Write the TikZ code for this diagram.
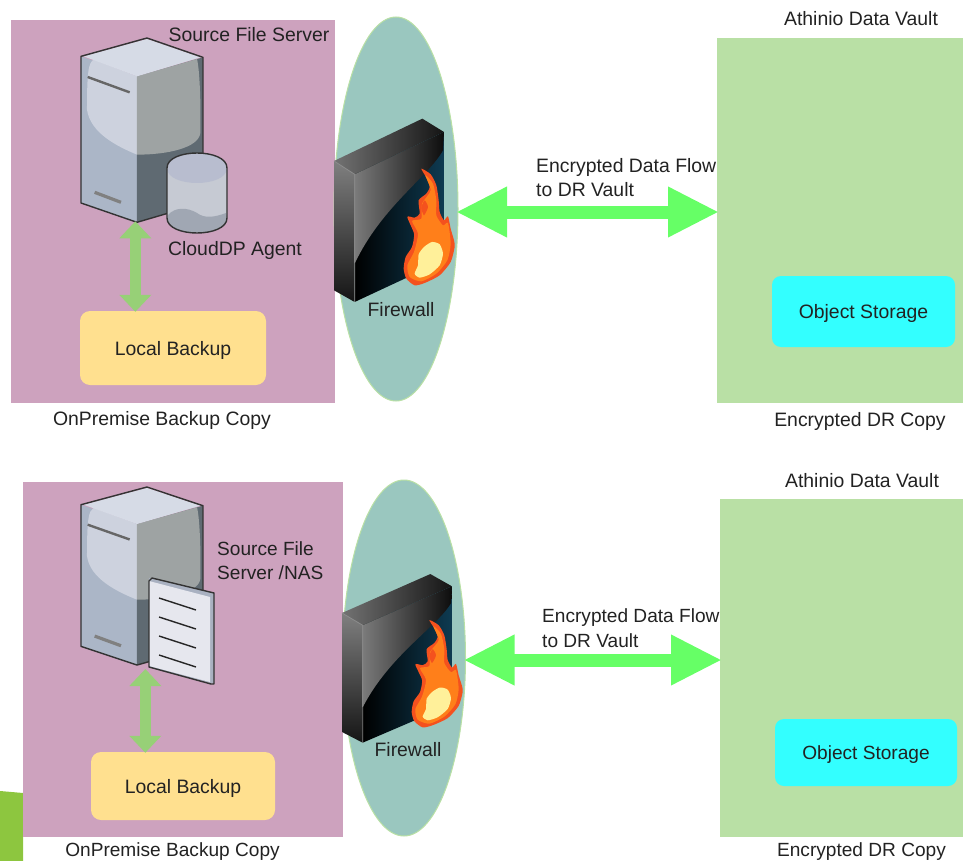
\documentclass[tikz,border=0pt]{standalone}
\usepackage{fontspec}
\setmainfont{Liberation Sans}
\usetikzlibrary{positioning,calc,arrows.meta,shapes.geometric}

\definecolor{pinkzone}{HTML}{CDA2BE}
\definecolor{wallteal}{HTML}{9AC7BF}
\definecolor{vaultgreen}{HTML}{B9E0A5}
\definecolor{storecyan}{HTML}{33FFFF}
\definecolor{backupyellow}{HTML}{FFE08F}
\definecolor{flowgreen}{HTML}{66FF66}
\definecolor{linkgreen}{HTML}{97D077}
\definecolor{cornergreen}{HTML}{8DC63F}
\definecolor{inktext}{HTML}{222222}
\definecolor{casefront}{HTML}{ABB6C7}
\definecolor{caseside}{HTML}{5F6A72}
\definecolor{casetop}{HTML}{D6DBE6}
\definecolor{caseglow}{HTML}{CDD2DE}
\definecolor{casesheen}{HTML}{9EA3A3}
\definecolor{drumbody}{HTML}{C6CAD3}
\definecolor{drumlid}{HTML}{B8BDCF}
\definecolor{drumbase}{HTML}{A0A7B3}
\definecolor{sheetface}{HTML}{E6E7EE}
\definecolor{sheetedge}{HTML}{A9B1C1}
\definecolor{wallblue}{HTML}{0E3B52}
\definecolor{flameout}{HTML}{F4511E}
\definecolor{flamein}{HTML}{FF7F1A}
\definecolor{flamecore}{HTML}{FFF09A}

\tikzset{
    tagtext/.style={font=\fontsize{19.4}{24.5}\selectfont, text=inktext, inner sep=0pt, align=left},
    narrowtext/.style={font=\fontsize{19.1}{24.5}\selectfont},
    onpremzone/.style={rectangle, fill=pinkzone, inner sep=0pt, outer sep=0pt, anchor=north west},
    vaultzone/.style={rectangle, fill=vaultgreen, inner sep=0pt, outer sep=0pt, anchor=north west},
    wallzone/.style={ellipse, fill=wallteal, draw=vaultgreen, line width=1pt, inner sep=0pt, outer sep=0pt},
    storebox/.style={tagtext, rectangle, rounded corners=9pt, fill=storecyan, align=center, text depth=0pt},
    backupbox/.style={tagtext, rectangle, rounded corners=10pt, fill=backupyellow, align=center, text depth=0pt},
    flowarrow/.style={draw=flowgreen, line width=13pt, shorten <=-2pt, shorten >=-2pt, {Triangle[length=51pt,width=47pt]}-{Triangle[length=51pt,width=47pt]}},
    linkarrow/.style={draw=linkgreen, line width=10.5pt, shorten <=-1pt, shorten >=-1pt, {Triangle[length=17pt,width=31pt]}-{Triangle[length=17pt,width=31pt]}},
    fileserver/.pic={
        \begin{scope}[shift={(-86.67,-18.33)},x=.3333pt,y=-.3333pt]
            \fill[casefront] (62,110) -- (230,170) -- (230,608) -- (62,550) -- cycle;
            \fill[caseside] (230,170) -- (428,113) -- (428,550) -- (230,608) -- cycle;
            \fill[caseglow] (230,170) -- (100,120) .. controls (85,130) and (80,150) .. (80,270) .. controls (90,340) and (170,380) .. (230,405) -- cycle;
            \fill[casesheen] (230,170) -- (410,118) .. controls (418,150) and (422,250) .. (420,340) .. controls (415,385) and (320,405) .. (230,405) -- cycle;
            \fill[casetop] (70,110) -- (260,58) -- (420,113) -- (230,170) -- cycle;
            \draw[line width=1.4pt, draw=black!80, line join=round] (62,110) -- (260,55) -- (428,113) -- (428,550) -- (230,608) -- (62,550) -- cycle;
            \draw[line width=2.4pt, draw=black!60] (82,172) -- (208,218);
            \draw[line width=3.2pt, draw=black!50] (103,518) -- (182,548);
            \coordinate (-foot) at (225,608);
        \end{scope}
    },
    dbdrum/.pic={
        \fill[drumbody] (-30,15) .. controls (-30,-5) and (30,-5) .. (30,15) -- (30,65) .. controls (30,85) and (-30,85) .. (-30,65) -- cycle;
        \fill[drumlid] (-30,15) .. controls (-30,-5) and (30,-5) .. (30,15) .. controls (30,35) and (-30,35) .. (-30,15) -- cycle;
        \fill[drumbase] (-29,62) .. controls (-22,54) and (-10,54) .. (0,60) .. controls (8,66) and (18,64) .. (29,60) -- (30,65) .. controls (30,85) and (-30,85) .. (-30,65) -- cycle;
        \draw[line width=1.4pt, draw=black!80] (-30,15) .. controls (-30,-5) and (30,-5) .. (30,15) -- (30,65) .. controls (30,85) and (-30,85) .. (-30,65) -- cycle;
    },
    filesheet/.pic={
        \fill[sheetedge] (0,0) -- (65,15) -- (65,106) -- (0,89) -- cycle;
        \fill[sheetface] (0,3) -- (61,19) -- (61,104) -- (0,88) -- cycle;
        \draw[line width=1.4pt, draw=black!80, line join=round] (3,0) -- (65,15) -- (65,106) -- (62,106) -- (0,89) -- (0,3) -- cycle;
        \foreach \rowy in {20,39,58,77}
            \draw[line width=1.4pt, draw=black!85] (10,\rowy) -- (47,\rowy+12);
    },
    firewallbox/.pic={
        \begin{scope}[shift={(-9.33,-60.67)},x=.3333pt,y=-.3333pt]
            % left side, top side and dark front
            \shade[top color=black!50, bottom color=black!92] (28,182) -- (90,222) -- (90,605) -- (28,570) -- cycle;
            \shade[left color=black!55, right color=black!92] (28,182) -- (293,55) -- (358,95) -- (90,222) -- cycle;
            \shade[left color=black, right color=wallblue] (90,222) -- (358,95) -- (358,480) -- (90,605) -- cycle;
            % gloss on the front
            \shade[shading angle=-30, left color=black!52, right color=black!95] (90,222) -- (358,95) -- (355,150) .. controls (310,230) and (170,320) .. (90,490) -- cycle;
            \draw[line width=.8pt, draw=white!55!black] (28,182) -- (90,222) -- (90,605);
            % flame
            \fill[flameout] plot[smooth cycle, tension=.4] coordinates {(290,205) (318,222) (335,255) (342,300) (345,335) (358,360) (370,348) (378,385) (388,420) (390,440) (378,485) (345,525) (300,548) (270,555) (245,535) (237,505) (243,470) (262,440) (268,400) (248,350) (270,352) (285,340) (282,300) (305,280) (315,260) (305,232)};
            \fill[flamein] plot[smooth cycle, tension=.4] coordinates {(302,225) (325,250) (335,300) (335,345) (355,375) (370,368) (378,430) (368,480) (335,520) (290,543) (255,530) (248,495) (268,455) (280,400) (262,362) (290,355) (292,310) (318,270)};
            \fill[flameout] plot[smooth cycle, tension=.4] coordinates {(300,300) (310,320) (298,345) (290,322)};
            \fill[flamecore] plot[smooth cycle, tension=.4] coordinates {(322,425) (345,432) (355,460) (345,495) (315,522) (285,532) (270,520) (280,495) (282,462) (298,440)};
        \end{scope}
    }
}

\begin{document}
\begin{tikzpicture}[x=1pt,y=-1pt]
    \useasboundingbox (0,0) rectangle (963,861);

    % top row
    \node[onpremzone, minimum width=324pt, minimum height=383pt] (site1) at (11,20) {};
    \node[wallzone, minimum width=124pt, minimum height=384pt] (wall1) at (396,209) {};
    \node[vaultzone, minimum width=246pt, minimum height=365pt] (vault1) at (717,38) {};
    \node[backupbox, minimum width=186pt, minimum height=74pt] (backup1) at (173,348) {Local Backup};
    \node[storebox, minimum width=183pt, minimum height=71pt] (store1) at (863.5,311.5) {Object Storage};

    \path pic (srv1) at (147,38) {fileserver};
    \path pic (drum1) at (197,153) {dbdrum};
    \path pic (fw1) at (334,161) {firewallbox};

    \draw[linkarrow] (srv1-foot) -- (srv1-foot |- backup1.north);
    \draw[flowarrow] ([yshift=-3pt]wall1.east) -- ([yshift=8.5pt]vault1.west);

    \node[tagtext] (srclabel1) at (249,35) {Source File Server};
    \node[tagtext] (agentlabel1) at (235,250.5) {CloudDP Agent};
    \node[tagtext] (fwlabel1) at (401,310) {Firewall};
    \node[tagtext, anchor=west] (flowlabel1) at (536,177.5) {Encrypted Data Flow\\to DR Vault};
    \node[tagtext] (vaultlabel1) at (861,19) {Athinio Data Vault};
    \node[tagtext] (copylabel1) at (162,420.5) {OnPremise Backup Copy};
    \node[tagtext] (drlabel1) at (860,421) {Encrypted DR Copy};

    % bottom row
    \fill[cornergreen] (0,791) -- (23,793) -- (23,861) -- (0,861) -- cycle;
    \node[onpremzone, minimum width=320pt, minimum height=355pt] (site2) at (23,482) {};
    \node[wallzone, minimum width=123pt, minimum height=356pt] (wall2) at (404,658) {};
    \node[vaultzone, minimum width=243pt, minimum height=338pt] (vault2) at (720,499) {};
    \node[backupbox, minimum width=184pt, minimum height=68pt] (backup2) at (183,786) {Local Backup};
    \node[storebox, narrowtext, minimum width=182pt, minimum height=67pt] (store2) at (866,752.5) {Object Storage};

    \path pic[yscale=.966] (srv2) at (147,487) {fileserver};
    \path pic[yscale=.92] (fw2) at (342,613) {firewallbox};

    \draw[linkarrow] ([xshift=10pt,yshift=-5pt]srv2-foot) -- ([xshift=10pt]srv2-foot |- backup2.north);
    \path pic (sheet2) at (149,578) {filesheet};
    \draw[flowarrow] ([yshift=-2pt]wall2.east) -- (vault2.west |- 0,660);

    \node[tagtext, narrowtext, anchor=west] (srclabel2) at (217,560.5) {Source File\\Server /NAS};
    \node[tagtext] (fwlabel2) at (408,750) {Firewall};
    \node[tagtext, narrowtext, anchor=west] (flowlabel2) at (542,628) {Encrypted Data Flow\\to DR Vault};
    \node[tagtext] (vaultlabel2) at (862,481) {Athinio Data Vault};
    \node[tagtext, narrowtext] (copylabel2) at (172.5,852) {OnPremise Backup Copy};
    \node[tagtext, narrowtext] (drlabel2) at (861.5,852) {Encrypted DR Copy};
\end{tikzpicture}
\end{document}
